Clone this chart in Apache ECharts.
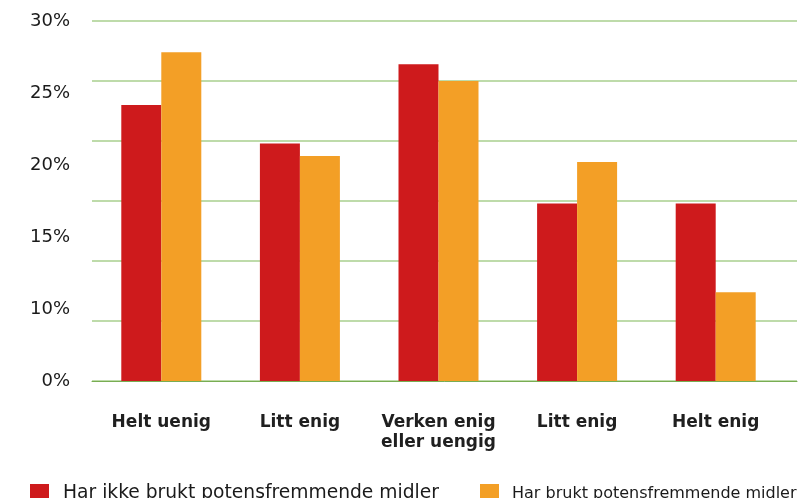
<!DOCTYPE html>
<html><head><meta charset="utf-8">
<script src="https://cdn.jsdelivr.net/npm/echarts@6/dist/echarts.min.js"></script>
<style>html,body{margin:0;padding:0;background:#fff}#c{width:804px;height:498px}</style>
</head><body><div id="c"></div>
<script>
const categories = ['Helt uenig', 'Litt enig', 'Verken enig\neller uengig', 'Litt enig', 'Helt enig'];
const seriesNames = ['Har ikke brukt potensfremmende midler', 'Har brukt potensfremmende midler'];
const notUsed = [23.0, 19.8, 26.4, 14.8, 14.8];
const used = [27.4, 18.75, 25.0, 18.25, 7.4];
const tickLabels = ['0%', '10%', '15%', '20%', '25%', '30%'];

const chart = echarts.init(document.getElementById('c'), null, {renderer: 'canvas'});
const font = '"DejaVu Sans", sans-serif';
chart.setOption({
  animation: false,
  grid: [
    {left: 92, right: 7, top: 21, bottom: 117, containLabel: false},
    {left: 92, right: 19, top: 21, bottom: 117, containLabel: false}
  ],
  legend: [
    {data: [seriesNames[0]], left: 25, top: 479, itemWidth: 19, itemHeight: 19, icon: 'rect',
     textStyle: {fontFamily: font, fontSize: 18.7, color: '#1a1a1a', padding: [0, 0, 3, 9]}},
    {data: [seriesNames[1]], left: 475, top: 479, itemWidth: 19, itemHeight: 19, icon: 'rect',
     textStyle: {fontFamily: font, fontSize: 16, color: '#1a1a1a', padding: [0, 0, 3, 8]}}
  ],
  xAxis: [
    {type: 'value', gridIndex: 0, min: 0, max: 1, show: true,
     axisLabel: {show: false}, axisTick: {show: false}, splitLine: {show: false},
     axisLine: {show: true, lineStyle: {color: '#78ad52', width: 1}}},
    {type: 'category', gridIndex: 1, data: categories,
     axisLine: {show: false},
     axisTick: {show: false},
     axisLabel: {interval: 0, margin: 32, fontFamily: font, fontSize: 17, fontWeight: 'bold', color: '#1f1f1f', lineHeight: 20}}
  ],
  yAxis: [
    {type: 'value', gridIndex: 0, min: 0, max: 30, interval: 5,
     axisLabel: {show: false}, axisLine: {show: false}, axisTick: {show: false},
     splitLine: {lineStyle: {color: '#a9cf8e', width: 1.5}}},
    {type: 'value', gridIndex: 0, position: 'left', min: 0, max: 5, interval: 1,
     axisLine: {show: false}, axisTick: {show: false}, splitLine: {show: false},
     axisLabel: {margin: 22, fontFamily: font, fontSize: 18, color: '#1a1a1a',
       formatter: v => tickLabels[Math.round(v)]}},
    {type: 'value', gridIndex: 1, min: 0, max: 30, interval: 5, show: false}
  ],
  series: [
    {name: seriesNames[0], type: 'bar', data: notUsed, xAxisIndex: 1, yAxisIndex: 2, barWidth: 40, barGap: '0%',
     itemStyle: {color: '#ce1a1c'}},
    {name: seriesNames[1], type: 'bar', data: used, xAxisIndex: 1, yAxisIndex: 2, barWidth: 40, barGap: '0%',
     itemStyle: {color: '#f39f26'}}
  ]
});
</script></body></html>
